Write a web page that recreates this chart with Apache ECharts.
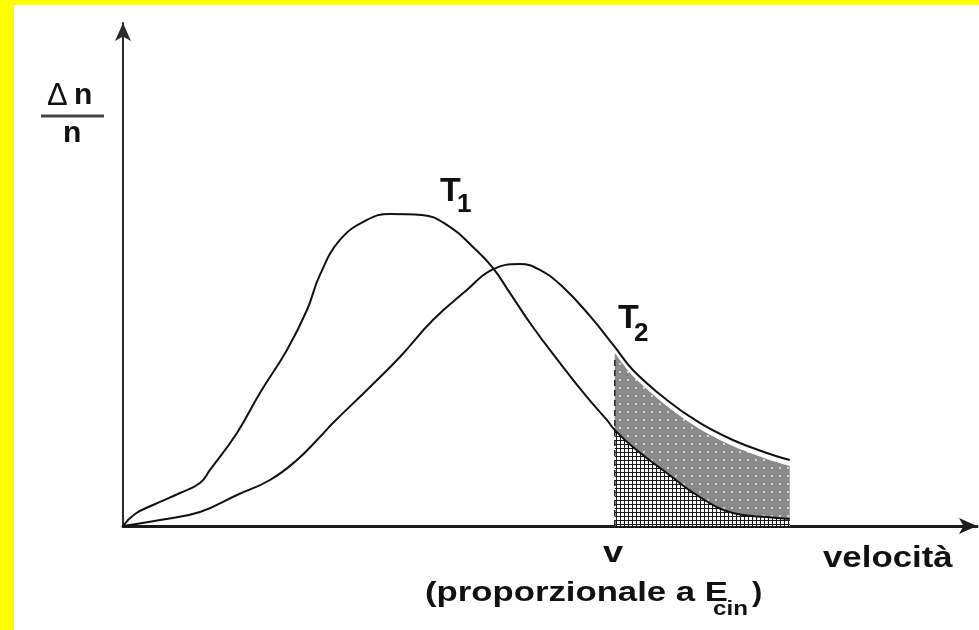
<!DOCTYPE html>
<html>
<head>
<meta charset="utf-8">
<title>Distribuzione delle velocità</title>
<script src="https://cdn.jsdelivr.net/npm/echarts@6/dist/echarts.min.js"></script>
<style>
  html, body { margin: 0; padding: 0; background: #ffffff; }
  #chart { width: 979px; height: 630px; }
</style>
</head>
<body>
<div id="chart"></div>
<script>
// Maxwell-like speed distributions at two temperatures (arbitrary units).
// Each point is [velocità, Δn/n].
const curveT1 = [
  [0, 0], [1.42, 2.43], [3.55, 4.25], [6.75, 6.68], [9.11, 8.70], [10.30, 11.34],
  [13.49, 18.83], [16.21, 26.92], [19.41, 35.63], [21.78, 43.72], [23.31, 50.81],
  [25.68, 57.89], [28.88, 61.94], [31.60, 63.16], [35.38, 62.96], [38.70, 60.53],
  [41.42, 56.48], [43.79, 52.23], [45.80, 47.17], [48.52, 40.28], [51.72, 33.00],
  [54.91, 26.11], [57.28, 21.46], [58.22, 19.43], [60.36, 15.99], [64.38, 10.73],
  [68.28, 5.87], [72.19, 2.63], [76.21, 1.82], [78.93, 1.42]
];
const curveT2 = [
  [0, 0], [4.38, 1.21], [9.11, 2.83], [13.49, 6.28], [17.40, 9.31], [20.59, 13.36],
  [23.31, 18.02], [24.85, 20.85], [28.88, 27.53], [32.78, 34.21], [36.69, 41.70],
  [40.71, 47.77], [43.67, 51.82], [46.98, 53.04], [49.35, 51.82], [52.07, 48.38],
  [55.27, 42.51], [58.22, 36.23], [60.36, 31.58], [64.38, 25.51], [68.28, 20.85],
  [72.19, 17.41], [76.21, 14.78], [78.93, 13.36]
];
// threshold speed v and the height of its dashed marker
const vSpeed = 58.22;
const vMarkerTop = 34.2;
const curveNames = ['T1', 'T2'];
// axis extents (the arrow tips sit at the ends)
const xMax = 101.1;
const yMax = 101.8;

// shaded tails beyond v
const tailT1 = curveT1.filter(p => p[0] >= vSpeed);
const bandGap = 1.2;
const tailBand = curveT2.filter(p => p[0] >= vSpeed).map(p => [p[0], p[1] - bandGap]);

// fill patterns
function makePattern(size, bg, draw) {
  const c = document.createElement('canvas');
  c.width = size; c.height = size;
  const g = c.getContext('2d');
  g.fillStyle = bg; g.fillRect(0, 0, size, size);
  draw(g);
  return { image: c, repeat: 'repeat' };
}
const hatchFill = makePattern(4, '#ffffff', g => {
  g.fillStyle = '#1a1a1a';
  g.fillRect(0, 0, 4, 1);
  g.fillRect(0, 0, 1, 4);
});
const dottedGrey = makePattern(8, '#8a8a8a', g => {
  g.fillStyle = '#d4d4d4';
  g.fillRect(3, 3, 2, 2);
});

const FONT = '"Liberation Sans", Arial, Helvetica, sans-serif';
function txt(text, x, y, size, opts) {
  opts = opts || {};
  return {
    type: 'text', x: x, y: y, scaleX: opts.sx || 1, z: 20,
    style: {
      text: text,
      font: (opts.weight || 'bold') + ' ' + size + 'px ' + FONT,
      fill: '#111111',
      textAlign: 'left',
      textVerticalAlign: 'middle'
    }
  };
}

const chart = echarts.init(document.getElementById('chart'), null, { renderer: 'canvas' });
chart.setOption({
  animation: false,
  backgroundColor: '#ffffff',
  grid: { left: 123, right: 2, top: 23, bottom: 104, containLabel: false },
  xAxis: {
    type: 'value', min: 0, max: xMax,
    axisLine: { show: true, onZero: false, symbol: ['none', 'arrow'], symbolSize: [12, 18],
      lineStyle: { color: '#1a1a1a', width: 3 } },
    axisTick: { show: false }, axisLabel: { show: false }, splitLine: { show: false }
  },
  yAxis: {
    type: 'value', min: 0, max: yMax,
    axisLine: { show: true, onZero: false, symbol: ['none', 'arrow'], symbolSize: [12, 18],
      lineStyle: { color: '#2a2a2a', width: 2 } },
    axisTick: { show: false }, axisLabel: { show: false }, splitLine: { show: false }
  },
  series: [
    {
      type: 'line', data: tailBand, symbol: 'none', z: 1, smooth: 0.3,
      lineStyle: { width: 0 }, areaStyle: { color: dottedGrey, opacity: 1 }
    },
    {
      type: 'line', data: tailT1, symbol: 'none', z: 2, smooth: 0.45,
      lineStyle: { width: 0 }, areaStyle: { color: hatchFill, opacity: 1 }
    },
    {
      type: 'line', data: [[vSpeed, 0], [vSpeed, vMarkerTop]], symbol: 'none', z: 3,
      lineStyle: { color: '#222222', width: 1.5, type: [6, 4] }
    },
    {
      name: curveNames[0], type: 'line', data: curveT1, symbol: 'none', smooth: 0.45, z: 4,
      lineStyle: { color: '#111111', width: 2 }
    },
    {
      name: curveNames[1], type: 'line', data: curveT2, symbol: 'none', smooth: 0.45, z: 4,
      lineStyle: { color: '#111111', width: 2 }
    }
  ],
  graphic: [
    // frame strips
    { type: 'rect', shape: { x: 0, y: 0, width: 979, height: 5 }, style: { fill: '#ffff00' }, z: 30 },
    { type: 'rect', shape: { x: 0, y: 0, width: 14, height: 630 }, style: { fill: '#ffff00' }, z: 30 },
    // y-axis label Δn / n
    txt('Δ', 47, 96, 31, { weight: 'normal' }),
    txt('n', 74, 96, 30),
    { type: 'line', shape: { x1: 41, y1: 116, x2: 104, y2: 116 }, style: { stroke: '#444444', lineWidth: 3 }, z: 20 },
    txt('n', 63, 134, 30),
    // curve labels
    txt('T', 440, 192, 34), txt('1', 457, 205, 26),
    txt('T', 618, 319, 34), txt('2', 634, 334, 26),
    // x-axis texts
    txt('v', 603, 554, 29, { sx: 1.25 }),
    txt('velocità', 823, 559, 29, { sx: 1.2 }),
    txt('(proporzionale a E', 425, 593, 28, { sx: 1.24 }),
    txt('cin', 713, 609, 21, { sx: 1.15 }),
    txt(')', 752, 593, 28, { sx: 1.1 })
  ]
});
</script>
</body>
</html>
